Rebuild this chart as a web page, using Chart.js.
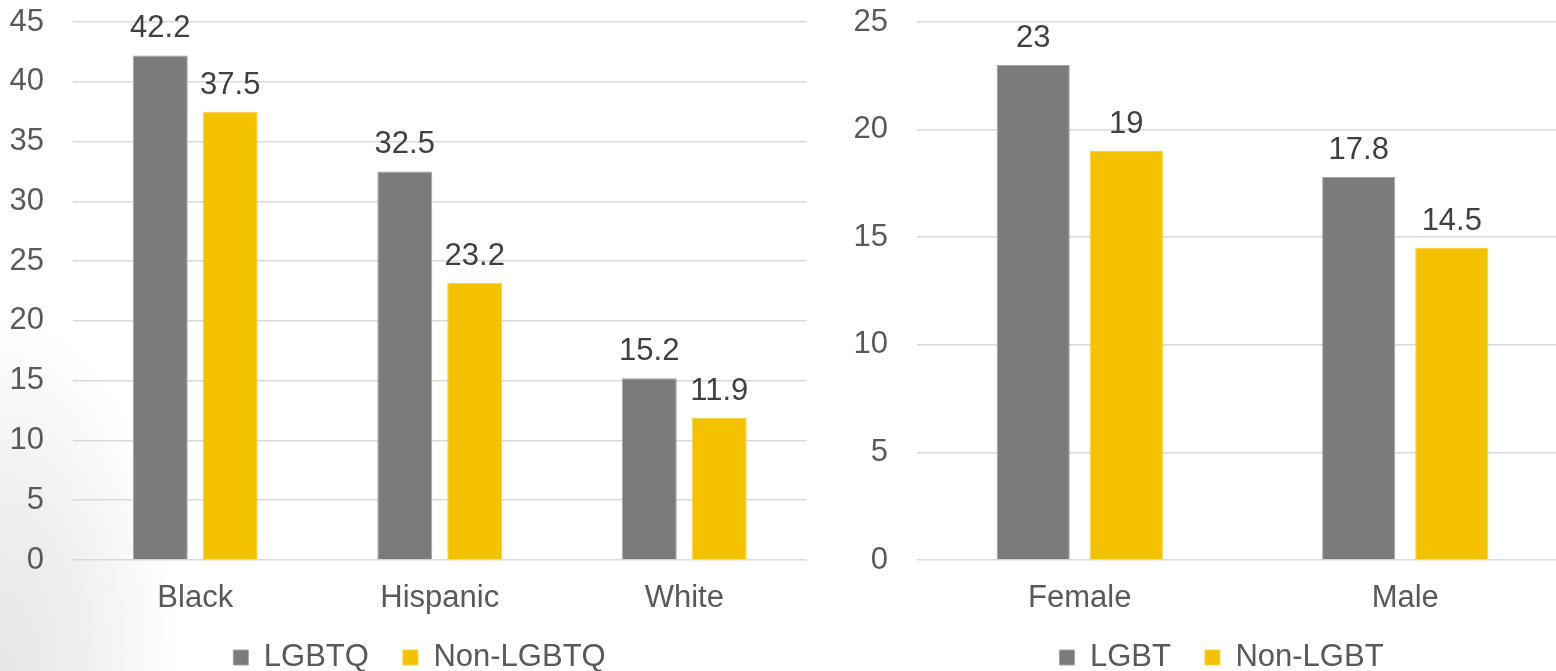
<!DOCTYPE html>
<html>
<head>
<meta charset="utf-8">
<script src="https://cdn.jsdelivr.net/npm/chart.js@4/dist/chart.umd.min.js"></script>
<style>
  html, body {
    margin: 0;
    width: 1556px;
    height: 671px;
    overflow: hidden;
    /* soft grey shading in the lower left corner */
    background: radial-gradient(ellipse 180px 360px at 0% 100%, #e6e6e6 0%, #f0f0f0 50%, #ffffff 100%);
  }
  .box { position: absolute; top: 0; height: 683px; }
  #leftBox { left: 0; width: 839px; }
  #rightBox { left: 830px; width: 783px; }
</style>
</head>
<body>
<div class="box" id="leftBox"><canvas id="raceChart"></canvas></div>
<div class="box" id="rightBox"><canvas id="sexChart"></canvas></div>

<script>
// data, left chart (by race)
const raceLabels = ['Black', 'Hispanic', 'White'];
const lgbtqValues = [42.2, 32.5, 15.2];
const nonLgbtqValues = [37.5, 23.2, 11.9];
const raceTicks = { max: 45, step: 5 };

// data, right chart (by sex)
const sexLabels = ['Female', 'Male'];
const lgbtValues = [23, 17.8];
const nonLgbtValues = [19, 14.5];
const sexTicks = { max: 25, step: 5 };

const GREY = '#7b7b7b';
const YELLOW = '#f2c200';
const TEXT = '#595959';
const FONT = "'Liberation Sans', Arial, sans-serif";
const SIZE = 31;

// value labels above each bar
const barValues = {
  id: 'barValues',
  afterDatasetsDraw(chart) {
    const ctx = chart.ctx;
    ctx.save();
    ctx.font = SIZE + 'px ' + FONT;
    ctx.fillStyle = '#404040';
    ctx.textAlign = 'center';
    ctx.textBaseline = 'alphabetic';
    chart.data.datasets.forEach((ds, i) => {
      chart.getDatasetMeta(i).data.forEach((bar, j) => {
        ctx.fillText(String(ds.data[j]), bar.x, bar.y - 18);
      });
    });
    ctx.restore();
  }
};

function makeChart(id, labels, names, a, b, ticks, leftWidth, rightWidth) {
  return new Chart(document.getElementById(id), {
    type: 'bar',
    data: {
      labels: labels,
      datasets: [
        { label: names[0], data: a, backgroundColor: GREY, borderColor: '#a3a3a3', borderWidth: 1 },
        { label: names[1], data: b, backgroundColor: YELLOW, borderColor: '#f6d040', borderWidth: 1 }
      ]
    },
    options: {
      responsive: true,
      maintainAspectRatio: false,
      animation: false,
      categoryPercentage: 0.572,
      barPercentage: 0.786,
      layout: { padding: { top: 22, left: 0, right: 0, bottom: 0 } },
      plugins: {
        tooltip: { enabled: false },
        legend: {
          position: 'bottom',
          labels: {
            boxWidth: 15,
            boxHeight: 15,
            padding: 34,
            color: TEXT,
            font: { size: SIZE, family: FONT }
          }
        }
      },
      scales: {
        x: {
          grid: { display: false },
          border: { display: false },
          // mirror keeps the labels from being clipped to the axis box,
          // the negative padding puts them back under the plot
          ticks: { mirror: true, color: TEXT, padding: -57.5, font: { size: SIZE, family: FONT } },
          afterFit(s) { s.height = 48; }
        },
        y: {
          min: 0,
          max: ticks.max,
          border: { display: false },
          grid: { color: '#d9d9d9', lineWidth: 1.5, drawTicks: false },
          ticks: { stepSize: ticks.step, color: TEXT, padding: 29, font: { size: SIZE, family: FONT } },
          afterFit(s) {
            s.width = leftWidth;
            s.paddingTop = 0;
            s.paddingBottom = 0;
          }
        },
        // empty axis on the right, only keeps the plot narrower than the legend row
        yRight: {
          axis: 'y',
          position: 'right',
          display: true,
          grid: { display: false },
          border: { display: false },
          ticks: { display: false },
          afterFit(s) {
            s.width = rightWidth;
            s.paddingTop = 0;
            s.paddingBottom = 0;
          }
        }
      }
    },
    plugins: [barValues]
  });
}

makeChart('raceChart', raceLabels, ['LGBTQ', 'Non-LGBTQ'], lgbtqValues, nonLgbtqValues, raceTicks, 73, 32.5);
makeChart('sexChart', sexLabels, ['LGBT', 'Non-LGBT'], lgbtValues, nonLgbtValues, sexTicks, 87, 45);
</script>
</body>
</html>
